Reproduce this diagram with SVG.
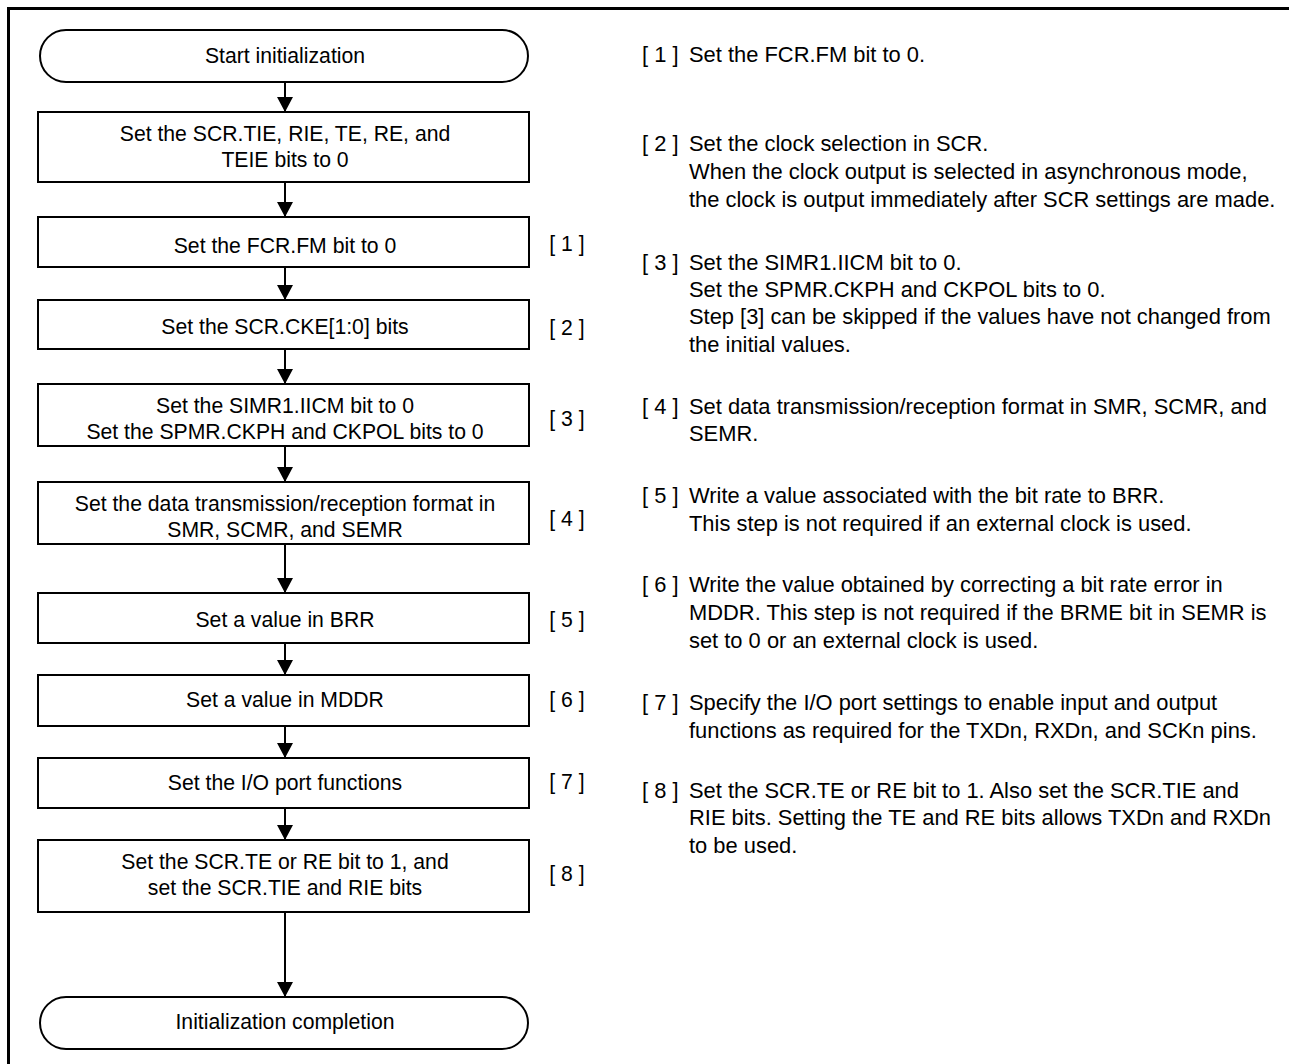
<svg xmlns="http://www.w3.org/2000/svg" width="1289" height="1064" viewBox="0 0 1289 1064">
<style>
  text { font-family: "Liberation Sans", Arial, sans-serif; font-size: 21.2px; fill: #000; }
  .c { text-anchor: middle; }
  .r { font-size: 21.9px; }
  .box { fill: #fff; stroke: #000; stroke-width: 2; }
  .term { fill: #fff; stroke: #000; stroke-width: 2; }
  .conn { stroke: #000; stroke-width: 2; fill: none; marker-end: url(#ah); }
  .frame { stroke: #000; stroke-width: 3; fill: none; }
</style>
<defs>
  <marker id="ah" viewBox="0 0 15 16" refX="15" refY="8" markerWidth="15" markerHeight="16" markerUnits="userSpaceOnUse" orient="auto">
    <path d="M0,0 L15,8 L0,16 z" fill="#000"/>
  </marker>
</defs>
<rect x="0" y="0" width="1289" height="1064" fill="#fff"/>
<path class="frame" d="M8.5,1064 V8.5 H1289"/>

<g id="connectors">
  <line class="conn" x1="285" y1="82" x2="285" y2="112"/>
  <line class="conn" x1="285" y1="182" x2="285" y2="217"/>
  <line class="conn" x1="285" y1="267" x2="285" y2="300"/>
  <line class="conn" x1="285" y1="349" x2="285" y2="384"/>
  <line class="conn" x1="285" y1="446" x2="285" y2="482"/>
  <line class="conn" x1="285" y1="544" x2="285" y2="593"/>
  <line class="conn" x1="285" y1="643" x2="285" y2="675"/>
  <line class="conn" x1="285" y1="726" x2="285" y2="758"/>
  <line class="conn" x1="285" y1="808" x2="285" y2="840"/>
  <line class="conn" x1="285" y1="912" x2="285" y2="997"/>
</g>

<g id="start">
  <rect class="term" x="40" y="30" width="488" height="52" rx="26" ry="26"/>
  <text class="c" x="285" y="63">Start initialization</text>
</g>
<g id="step0">
  <rect class="box" x="38" y="112" width="491" height="70"/>
  <text class="c" x="285" y="141">Set the SCR.TIE, RIE, TE, RE, and</text>
  <text class="c" x="285" y="167">TEIE bits to 0</text>
</g>
<g id="step1">
  <rect class="box" x="38" y="217" width="491" height="50"/>
  <text class="c" x="285" y="253">Set the FCR.FM bit to 0</text>
  <text class="c" x="567" y="251">[ 1 ]</text>
</g>
<g id="step2">
  <rect class="box" x="38" y="300" width="491" height="49"/>
  <text class="c" x="285" y="334">Set the SCR.CKE[1:0] bits</text>
  <text class="c" x="567" y="335">[ 2 ]</text>
</g>
<g id="step3">
  <rect class="box" x="38" y="384" width="491" height="62"/>
  <text class="c" x="285" y="413">Set the SIMR1.IICM bit to 0</text>
  <text class="c" x="285" y="439">Set the SPMR.CKPH and CKPOL bits to 0</text>
  <text class="c" x="567" y="426">[ 3 ]</text>
</g>
<g id="step4">
  <rect class="box" x="38" y="482" width="491" height="62"/>
  <text class="c" x="285" y="511">Set the data transmission/reception format in</text>
  <text class="c" x="285" y="537">SMR, SCMR, and SEMR</text>
  <text class="c" x="567" y="526">[ 4 ]</text>
</g>
<g id="step5">
  <rect class="box" x="38" y="593" width="491" height="50"/>
  <text class="c" x="285" y="627">Set a value in BRR</text>
  <text class="c" x="567" y="627">[ 5 ]</text>
</g>
<g id="step6">
  <rect class="box" x="38" y="675" width="491" height="51"/>
  <text class="c" x="285" y="707">Set a value in MDDR</text>
  <text class="c" x="567" y="707">[ 6 ]</text>
</g>
<g id="step7">
  <rect class="box" x="38" y="758" width="491" height="50"/>
  <text class="c" x="285" y="790">Set the I/O port functions</text>
  <text class="c" x="567" y="789">[ 7 ]</text>
</g>
<g id="step8">
  <rect class="box" x="38" y="840" width="491" height="72"/>
  <text class="c" x="285" y="869">Set the SCR.TE or RE bit to 1, and</text>
  <text class="c" x="285" y="895">set the SCR.TIE and RIE bits</text>
  <text class="c" x="567" y="881">[ 8 ]</text>
</g>
<g id="end">
  <rect class="term" x="40" y="997" width="488" height="52" rx="26" ry="26"/>
  <text class="c" x="285" y="1029">Initialization completion</text>
</g>

<g id="notes">
  <text class="r" x="642" y="62">[ 1 ]</text>
  <text class="r" x="689" y="62">Set the FCR.FM bit to 0.</text>

  <text class="r" x="642" y="151">[ 2 ]</text>
  <text class="r" x="689" y="151">Set the clock selection in SCR.</text>
  <text class="r" x="689" y="179">When the clock output is selected in asynchronous mode,</text>
  <text class="r" x="689" y="207">the clock is output immediately after SCR settings are made.</text>

  <text class="r" x="642" y="270">[ 3 ]</text>
  <text class="r" x="689" y="270">Set the SIMR1.IICM bit to 0.</text>
  <text class="r" x="689" y="297">Set the SPMR.CKPH and CKPOL bits to 0.</text>
  <text class="r" x="689" y="324">Step [3] can be skipped if the values have not changed from</text>
  <text class="r" x="689" y="352">the initial values.</text>

  <text class="r" x="642" y="414">[ 4 ]</text>
  <text class="r" x="689" y="414">Set data transmission/reception format in SMR, SCMR, and</text>
  <text class="r" x="689" y="441">SEMR.</text>

  <text class="r" x="642" y="503">[ 5 ]</text>
  <text class="r" x="689" y="503">Write a value associated with the bit rate to BRR.</text>
  <text class="r" x="689" y="531">This step is not required if an external clock is used.</text>

  <text class="r" x="642" y="592">[ 6 ]</text>
  <text class="r" x="689" y="592">Write the value obtained by correcting a bit rate error in</text>
  <text class="r" x="689" y="620">MDDR. This step is not required if the BRME bit in SEMR is</text>
  <text class="r" x="689" y="648">set to 0 or an external clock is used.</text>

  <text class="r" x="642" y="710">[ 7 ]</text>
  <text class="r" x="689" y="710">Specify the I/O port settings to enable input and output</text>
  <text class="r" x="689" y="738">functions as required for the TXDn, RXDn, and SCKn pins.</text>

  <text class="r" x="642" y="798">[ 8 ]</text>
  <text class="r" x="689" y="798">Set the SCR.TE or RE bit to 1. Also set the SCR.TIE and</text>
  <text class="r" x="689" y="825">RIE bits. Setting the TE and RE bits allows TXDn and RXDn</text>
  <text class="r" x="689" y="853">to be used.</text>
</g>
</svg>
